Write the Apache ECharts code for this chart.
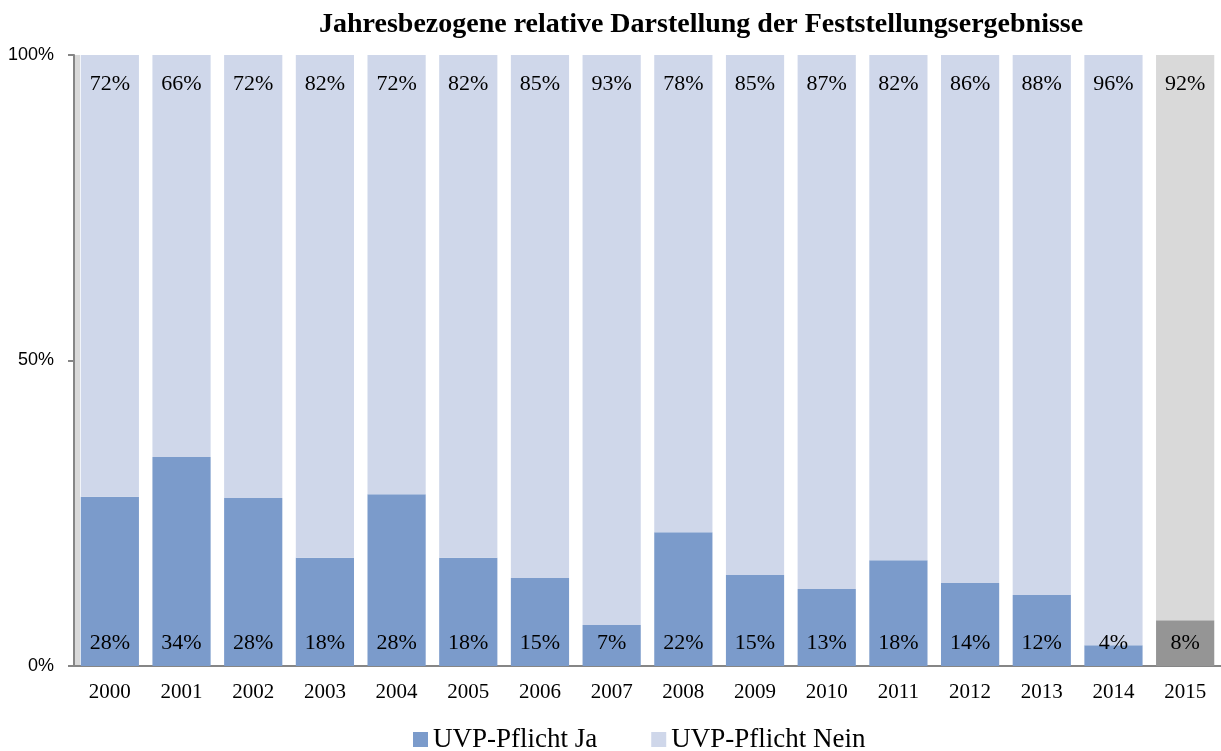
<!DOCTYPE html>
<html><head><meta charset="utf-8">
<script src="https://cdn.jsdelivr.net/npm/echarts@6/dist/echarts.min.js"></script>
<style>html,body{margin:0;padding:0;background:#fff}#c{width:1221px;height:751px}</style>
</head><body><div id="c"></div>
<script>
const years = ['2000','2001','2002','2003','2004','2005','2006','2007','2008','2009','2010','2011','2012','2013','2014','2015'];
const jaValues = [27.7,34.2,27.5,17.7,28.1,17.7,14.4,6.7,21.9,14.9,12.6,17.3,13.6,11.6,3.4,7.5];
const neinValues = [72.3,65.8,72.5,82.3,71.9,82.3,85.6,93.3,78.1,85.1,87.4,82.7,86.4,88.4,96.6,92.5];
const jaLabels = ['28%','34%','28%','18%','28%','18%','15%','7%','22%','15%','13%','18%','14%','12%','4%','8%'];
const neinLabels = ['72%','66%','72%','82%','72%','82%','85%','93%','78%','85%','87%','82%','86%','88%','96%','92%'];
const yTicks = [0,50,100];

const serif = '"Liberation Serif","Times New Roman",serif';
const colJa = '#7b9bcb', colNein = '#cfd7ea', colJaGray = '#959595', colNeinGray = '#d9d9d9';
const lastIdx = years.length - 1;

const chart = echarts.init(document.getElementById('c'), null, {renderer:'canvas'});
chart.setOption({
  animation:false,
  title:{text:'Jahresbezogene relative Darstellung der Feststellungsergebnisse', left:314, top:6,
    textStyle:{fontFamily:serif, fontWeight:'bold', fontSize:28, color:'#000'}},
  grid:{left:74, top:55, width:1154, height:611, containLabel:false},
  graphic:[{type:'rect', shape:{x:75, y:55, width:5, height:611}, style:{fill:'#d9d9d9'}, z:-1}],
  legend:{bottom:-7, left:408, itemWidth:15, itemHeight:15, itemGap:54, icon:'rect',
    textStyle:{fontFamily:serif, fontSize:27, color:'#000'},
    data:['UVP-Pflicht Ja','UVP-Pflicht Nein']},
  xAxis:{type:'category', data:years,
    axisLine:{lineStyle:{color:'#868686', width:2}}, axisTick:{show:false},
    axisLabel:{fontFamily:serif, fontSize:21, color:'#000', margin:16}},
  yAxis:{type:'value', min:0, max:100, interval:50,
    axisLine:{show:true, lineStyle:{color:'#868686', width:2}},
    axisTick:{show:true, length:6, lineStyle:{color:'#868686', width:2}},
    splitLine:{show:false},
    axisLabel:{formatter:v=>yTicks.includes(v)?v+'%':'', fontFamily:'"Liberation Sans",Arial,sans-serif', fontSize:18, color:'#000', margin:20}},
  series:[
    {name:'UVP-Pflicht Ja', type:'bar', stack:'s', barCategoryGap:'18.8%',
     itemStyle:{color:colJa},
     data:jaValues.map((v,i)=>({value:v, itemStyle:{color:i===lastIdx?colJaGray:colJa}})),
     label:{show:true, position:'insideBottom', distance:12, fontFamily:serif, fontSize:22, color:'#000',
       formatter:p=>jaLabels[p.dataIndex]}},
    {name:'UVP-Pflicht Nein', type:'bar', stack:'s', barCategoryGap:'18.8%',
     itemStyle:{color:colNein},
     data:neinValues.map((v,i)=>({value:v, itemStyle:{color:i===lastIdx?colNeinGray:colNein}})),
     label:{show:true, position:'insideTop', distance:18, fontFamily:serif, fontSize:22, color:'#000',
       formatter:p=>neinLabels[p.dataIndex]}}
  ]
});
</script></body></html>
